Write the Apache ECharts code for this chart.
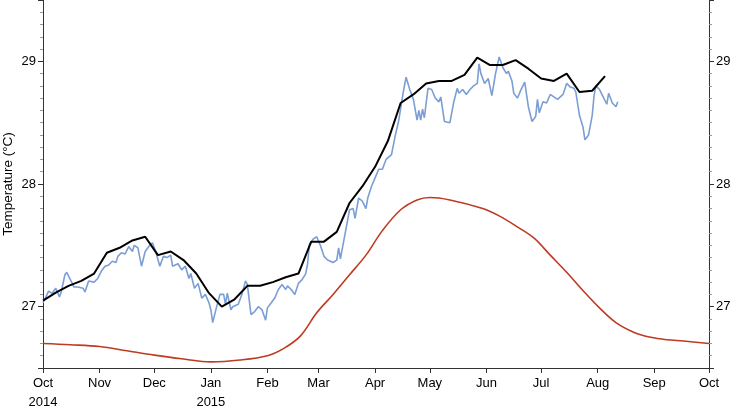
<!DOCTYPE html>
<html>
<head>
<meta charset="utf-8">
<script src="https://cdn.jsdelivr.net/npm/echarts@6/dist/echarts.min.js"></script>
<style>
html,body{margin:0;padding:0;background:#fff;}
#chart{width:730px;height:410px;}
</style>
</head>
<body>
<div id="chart"></div>
<script>
// Days are counted from 1 Oct 2014
const dailyDays = [0,3,5,7,9,10,12,13,15,17,19,22,23,25,28,30,32,34,36,38,40,41,43,45,47,49,50,52,54,56,58,60,62,64,66,68,70,71,74,76,78,80,81,83,85,87,89,91,92,93,95,97,99,100,101,103,104,107,109,111,112,114,116,118,120,122,123,125,127,129,131,133,134,136,138,140,142,144,145,146,148,150,152,154,156,157,159,161,162,163,165,167,168,170,171,173,175,177,178,180,182,184,186,188,189,191,193,195,197,198,199,201,203,205,206,207,208,209,211,213,215,217,218,220,223,225,227,228,230,232,234,236,238,239,240,242,244,246,248,250,252,254,255,257,258,260,262,264,266,268,270,271,272,274,276,278,280,282,283,285,287,289,291,292,294,296,297,299,301,302,303,305,307,309,310,312,313,314,315];
const dailyValues = [27.03,27.125,27.11,27.15,27.08,27.12,27.26,27.28,27.22,27.16,27.16,27.15,27.12,27.21,27.20,27.23,27.29,27.33,27.34,27.37,27.36,27.41,27.44,27.43,27.49,27.45,27.50,27.48,27.33,27.45,27.49,27.52,27.44,27.33,27.41,27.40,27.42,27.33,27.35,27.30,27.33,27.23,27.27,27.15,27.19,27.07,27.10,27.03,26.975,26.87,26.99,27.10,27.10,27.02,27.11,26.975,27.00,27.02,27.10,27.21,27.18,26.935,26.96,27.00,26.975,26.89,26.99,27.03,27.07,27.14,27.18,27.14,27.17,27.14,27.10,27.19,27.22,27.27,27.35,27.505,27.55,27.57,27.50,27.41,27.38,27.39,27.36,27.38,27.48,27.39,27.55,27.71,27.79,27.80,27.72,27.886,27.86,27.80,27.886,27.98,28.05,28.12,28.12,28.20,28.21,28.24,28.39,28.52,28.71,28.795,28.87,28.77,28.69,28.52,28.60,28.52,28.61,28.54,28.78,28.77,28.70,28.67,28.71,28.51,28.50,28.66,28.78,28.74,28.77,28.73,28.77,28.80,28.82,28.98,28.90,28.82,28.86,28.72,28.90,29.035,28.95,28.90,28.92,28.84,28.74,28.70,28.77,28.83,28.63,28.51,28.55,28.69,28.58,28.67,28.66,28.73,28.71,28.69,28.70,28.73,28.82,28.79,28.78,28.75,28.56,28.46,28.36,28.40,28.56,28.72,28.80,28.77,28.71,28.65,28.74,28.66,28.65,28.63,28.67];

const weeklyDays = [0,7,14,21,28,35,42,49,56,63,70,77,84,91,98,105,112,119,126,133,140,147,154,161,168,175,182,189,196,203,210,217,224,231,238,245,252,259,266,273,280,287,294,301,308];
const weeklyValues = [27.05,27.115,27.17,27.21,27.27,27.44,27.48,27.54,27.57,27.42,27.45,27.38,27.27,27.11,27.00,27.06,27.17,27.17,27.20,27.24,27.27,27.53,27.53,27.61,27.845,27.98,28.14,28.35,28.66,28.73,28.82,28.84,28.84,28.89,29.03,28.97,28.97,29.01,28.94,28.86,28.84,28.90,28.75,28.76,28.88];

const climDays = [0,15,31,46,61,76,92,108,123,132,141,150,159,168,177,186,196,205,212,223,241,250,260,269,278,287,296,305,314,324,333,342,351,365];
const climValues = [26.70,26.69,26.675,26.64,26.605,26.575,26.55,26.565,26.60,26.66,26.76,26.95,27.10,27.26,27.42,27.62,27.79,27.87,27.89,27.87,27.80,27.74,27.65,27.56,27.42,27.28,27.13,26.99,26.87,26.79,26.75,26.73,26.72,26.70];

const monthNames = ['Jan','Feb','Mar','Apr','May','Jun','Jul','Aug','Sep','Oct','Nov','Dec'];
const yTickLabels = [27, 28, 29];

function dayToTime(d) { return new Date(2014, 9, 1 + d).getTime(); }
function pairs(days, vals) { return days.map((d, i) => [dayToTime(d), vals[i]]); }

const FONT = '"Liberation Sans", Arial, Helvetica, sans-serif';
const chart = echarts.init(document.getElementById('chart'));

function yAxisCfg(pos) {
  return {
    type: 'value', position: pos, min: 26.5, max: 29.5,
    splitNumber: 3, minInterval: 1, maxInterval: 1,
    name: pos === 'left' ? 'Temperature (°C)' : '',
    nameLocation: 'middle', nameGap: 28, nameRotate: 90, nameMoveOverlap: false,
    nameTextStyle: { fontFamily: FONT, fontSize: 13.5, color: '#000' },
    axisLine: { show: true, lineStyle: { color: '#333', width: 1 } },
    axisTick: { show: true, inside: false, length: 5, lineStyle: { color: '#333' } },
    minorTick: { show: true, splitNumber: 10, length: 3, lineStyle: { color: '#999' } },
    splitLine: { show: false },
    axisLabel: {
      fontFamily: FONT, fontSize: 13, color: '#000', margin: 7,
      formatter: v => (yTickLabels.indexOf(Math.round(v * 1000) / 1000) >= 0 ? String(Math.round(v)) : '')
    }
  };
}

chart.setOption({
  animation: false,
  grid: { left: 43, right: 21, top: 0, bottom: 42, containLabel: false, outerBoundsMode: 'none' },
  xAxis: {
    type: 'time',
    min: dayToTime(0), max: dayToTime(365),
    splitNumber: 12,
    minInterval: 28 * 86400000, maxInterval: 31 * 86400000,
    axisLine: { show: true, onZero: false, lineStyle: { color: '#333', width: 1 } },
    axisTick: { show: true, inside: false, length: 5, lineStyle: { color: '#333' } },
    splitLine: { show: false },
    axisLabel: {
      fontFamily: FONT, fontSize: 13, color: '#000', margin: 6, lineHeight: 19,
      showMinLabel: true, showMaxLabel: true, hideOverlap: false,
      formatter: function (value) {
        const d = new Date(value);
        let s = monthNames[d.getMonth()];
        if ((d.getFullYear() === 2014 && d.getMonth() === 9) || (d.getFullYear() === 2015 && d.getMonth() === 0)) {
          s += '\n' + d.getFullYear();
        }
        return s;
      }
    }
  },
  yAxis: [yAxisCfg('left'), yAxisCfg('right')],
  series: [
    {
      type: 'line', name: 'climatology', data: pairs(climDays, climValues),
      smooth: 0.35, showSymbol: false, symbol: 'none',
      lineStyle: { color: '#bf3a22', width: 1.6 }, z: 2
    },
    {
      type: 'line', name: 'daily', data: pairs(dailyDays, dailyValues),
      showSymbol: false, symbol: 'none',
      lineStyle: { color: '#7b9ed4', width: 1.6 }, z: 3
    },
    {
      type: 'line', name: 'weekly', data: pairs(weeklyDays, weeklyValues),
      showSymbol: false, symbol: 'none',
      lineStyle: { color: '#000', width: 2 }, z: 4
    }
  ]
});
</script>
</body>
</html>
